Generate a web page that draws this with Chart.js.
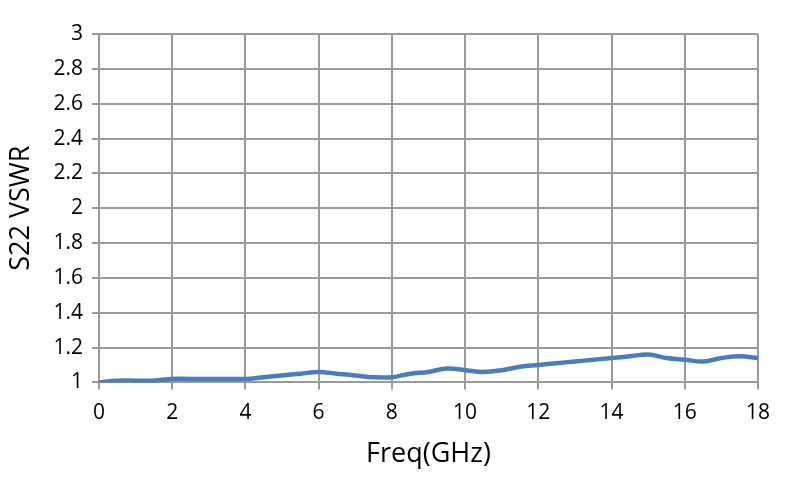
<!DOCTYPE html>
<html><head><meta charset="utf-8">
<script src="https://cdn.jsdelivr.net/npm/chart.js@4/dist/chart.umd.min.js"></script>
<style>html,body{margin:0;padding:0;background:#fff}canvas{display:block}</style>
</head><body>
<canvas id="c" width="796" height="480"></canvas>
<script>
const freqs = [0,0.5,1,1.5,2,2.5,3,3.5,4,4.5,5,5.5,6,6.5,7,7.5,8,8.5,9,9.5,10,10.5,11,11.5,12,12.5,13,13.5,14,14.5,15,15.5,16,16.5,17,17.5,18];
const vswr  = [1.00,1.01,1.01,1.01,1.02,1.02,1.02,1.02,1.02,1.03,1.04,1.05,1.06,1.05,1.04,1.03,1.03,1.05,1.06,1.08,1.07,1.06,1.07,1.09,1.10,1.11,1.12,1.13,1.14,1.15,1.16,1.14,1.13,1.12,1.14,1.15,1.14];
const xLabel = 'Freq(GHz)';
const yLabel = 'S22 VSWR';
const font = "'Open Sans', 'Noto Sans', sans-serif";
new Chart(document.getElementById('c'), {
  type: 'line',
  data: { datasets: [{ data: freqs.map((f,i)=>({x:f,y:vswr[i]})), borderColor:'#4a7ebb', borderWidth:4.5, pointRadius:0, tension:0.4, fill:false }] },
  options: {
    responsive:false, animation:false,
    layout:{padding:{left:1,right:38,top:34,bottom:5}},
    plugins:{legend:{display:false},tooltip:{enabled:false}},
    scales:{
      x:{type:'linear',min:0,max:18,
        ticks:{stepSize:2,color:'#000',font:{family:font,size:21},padding:11},
        grid:{color:'#9a9a9a',lineWidth:2,tickLength:7},
        border:{color:'#9a9a9a',width:2},
        title:{display:true,text:xLabel,color:'#000',font:{family:font,size:27},padding:{top:2}}},
      y:{min:1,max:3,
        ticks:{stepSize:0.2,color:'#000',font:{family:font,size:21},padding:9,callback:v=>String(Number(v.toFixed(1)))},
        grid:{color:'#9a9a9a',lineWidth:2,tickLength:7},
        border:{color:'#9a9a9a',width:2},
        title:{display:true,text:yLabel,color:'#000',font:{family:font,size:27},padding:{bottom:7}}}
    }
  }
});
</script>
</body></html>
